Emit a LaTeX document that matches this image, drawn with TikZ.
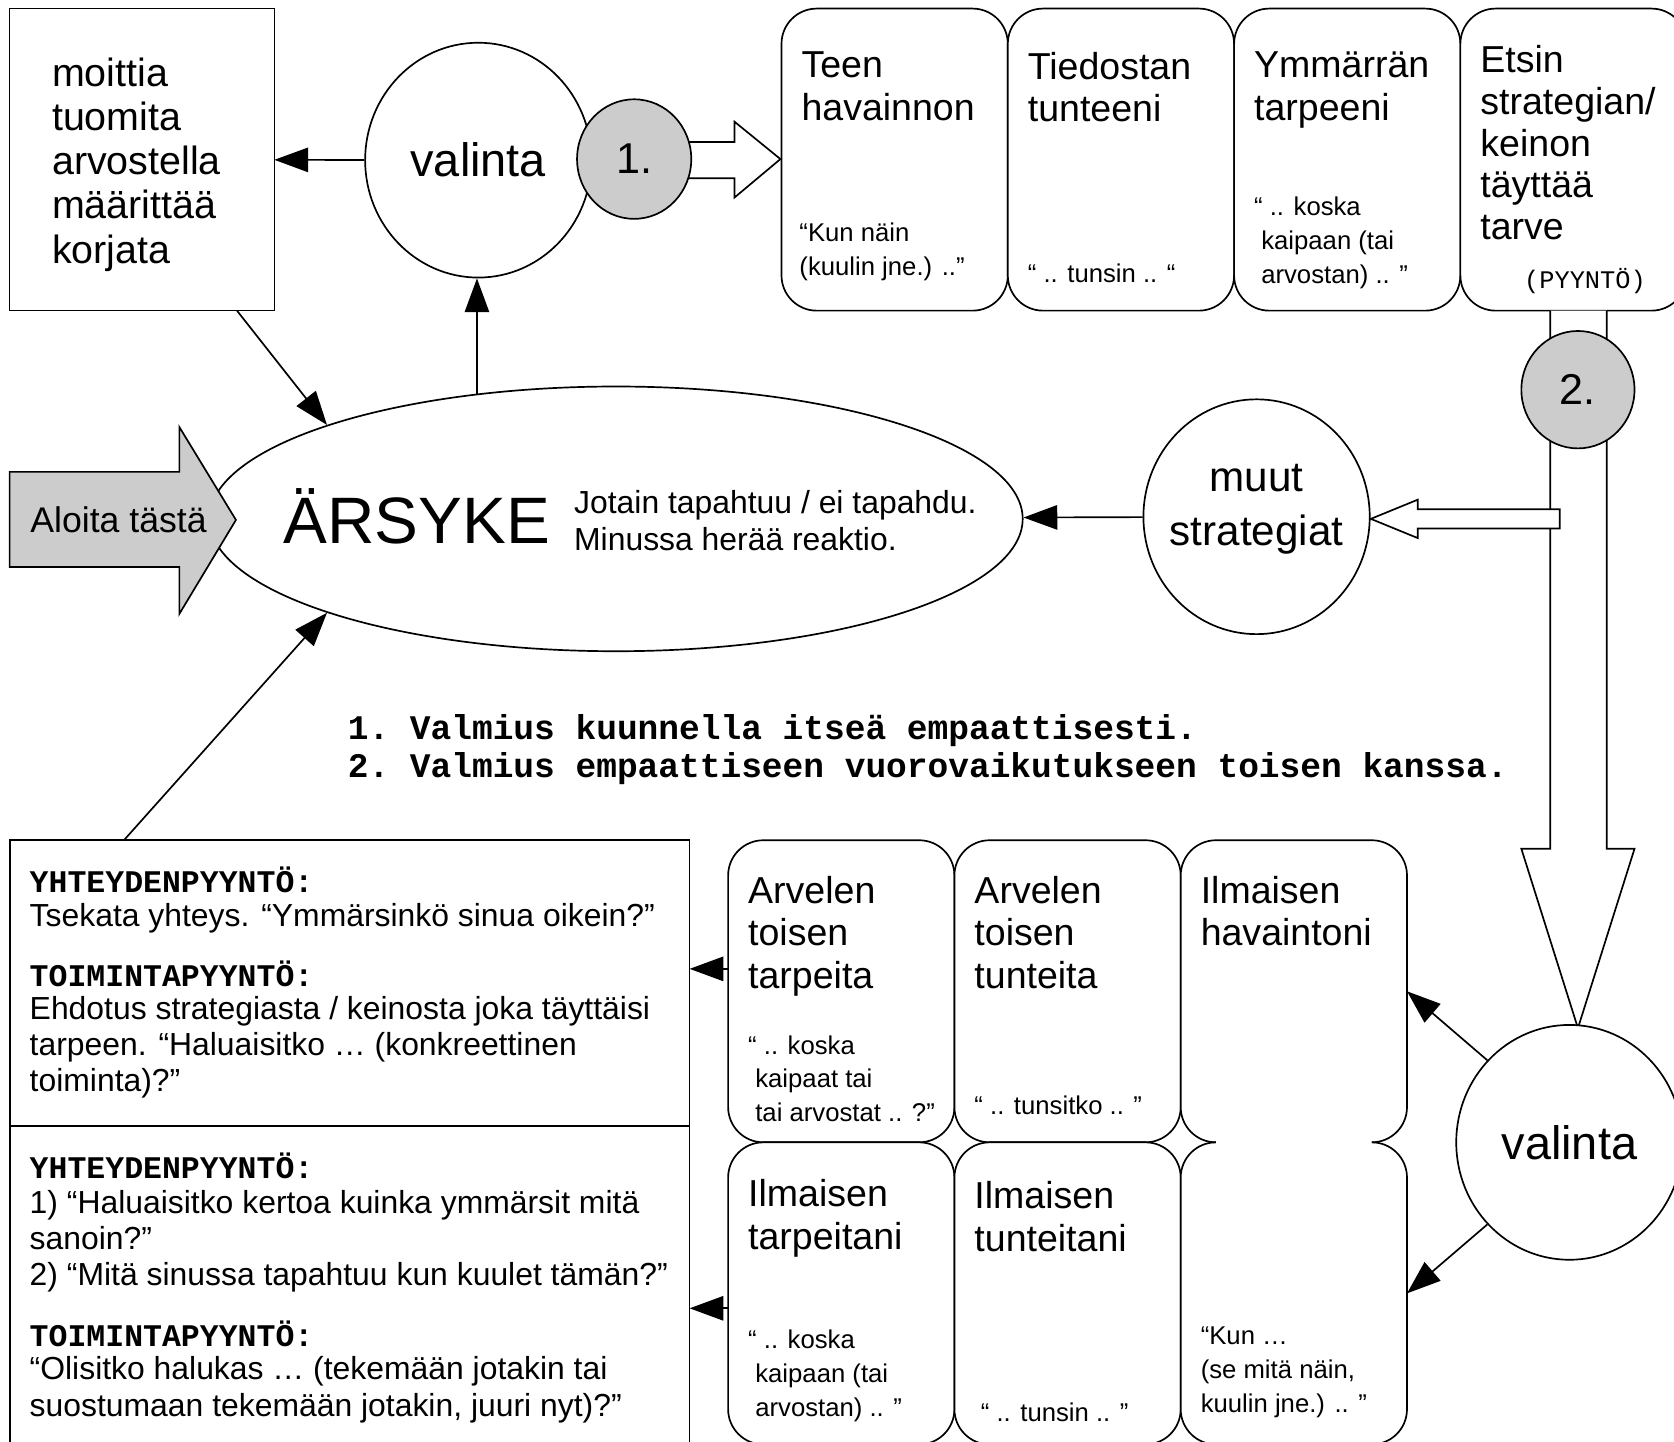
\documentclass[tikz,border=0pt]{standalone}
\usepackage{fontspec}
\setmainfont{Liberation Sans}
\setmonofont{Liberation Mono}
\usepackage{tikz}
\usetikzlibrary{positioning}
\usetikzlibrary{calc,arrows.meta}
\usetikzlibrary{shapes.geometric}

\definecolor{shade}{gray}{0.8}

\newcommand{\fntList}{\fontsize{21}{23.6}\selectfont}
\newcommand{\fntCard}{\fontsize{20}{22.6}\selectfont}
\newcommand{\fntTall}{\fontsize{20}{22.2}\selectfont}
\newcommand{\fntQuote}{\fontsize{13.7}{18}\selectfont}
\newcommand{\fntCirc}{\fontsize{25}{28}\selectfont}
\newcommand{\fntNum}{\fontsize{23}{26}\selectfont}
\newcommand{\fntOther}{\fontsize{22.5}{28.5}\selectfont}
\newcommand{\fntBig}{\fontsize{35}{40}\selectfont}
\newcommand{\fntNote}{\fontsize{17}{19.2}\selectfont}
\newcommand{\fntStart}{\fontsize{19}{22}\selectfont}
\newcommand{\fntTag}{\fontsize{13.5}{16}\selectfont\ttfamily}
\newcommand{\fntRule}{\fontsize{18.4}{20.5}\selectfont\ttfamily\bfseries}
\newcommand{\fntHead}{\fontsize{16.8}{19}\selectfont\ttfamily\bfseries}
\newcommand{\fntBody}{\fontsize{17}{19.3}\selectfont}

\tikzset{
	plainbox/.style={draw, fill=white, rectangle, inner sep=0pt, outer sep=0pt},
	card/.style={draw, fill=white, rounded corners=0.66cm, minimum width=4.24cm, minimum height=5.66cm, inner sep=0pt, outer sep=0pt},
	bubble/.style={draw, fill=white, ellipse, minimum width=4.24cm, minimum height=4.4cm, inner sep=0pt},
	badge/.style={draw, fill=shade, ellipse, minimum width=2.14cm, minimum height=2.24cm, inner sep=0pt},
	txt/.style={anchor=north west, inner sep=0pt, align=left},
	pointer/.style={-{Triangle[length=18pt,width=13pt]}},
	hollow/.style={draw, fill=white, line join=miter},
}

\begin{document}
\begin{tikzpicture}[x=0.02cm, y=-0.02cm, line width=0.9pt]

		% ---------------------
		% Proper size --- Bounding box
		\useasboundingbox (0,0) rectangle (1568,1350);

		% ---------------------
		% Judging & stimulus
		\node[plainbox, minimum width=4.96cm, minimum height=5.66cm] (judge) at (133,149.5) {};
		\path (judge.north west) +(39,45) node[txt, font=\fntList] {moittia\\tuomita\\arvostella\\määrittää\\korjata};

		\node[draw, fill=white, ellipse, minimum width=15.24cm, minimum height=4.96cm, inner sep=0pt] (stimulus) at (577,486) {};
		\node[anchor=west, inner sep=0pt, font=\fntBig] (stimname) at (265,484) {ÄRSYKE};
		\node[txt, font=\fntNote] (stimtext) at (537,459) {Jotain tapahtuu / ei tapahdu.\\Minussa herää reaktio.};

		\draw[fill=shade] (9,442) -- (168,442) -- (168,400) -- (221,487) -- (168,575) -- (168,531) -- (9,531) -- cycle;
		\node[font=\fntStart] (start) at (111,487) {Aloita tästä};

		% ---------------------
		% First choice & own cards
		\node[bubble, font=\fntCirc] (choice1) at (448,150) {valinta};
		\draw[hollow] (620,133) -- (688,133) -- (688,114) -- (731,149) -- (688,185) -- (688,167) -- (620,167);
		\node[badge, font=\fntNum] (num1) at (594,149) {1.};

		\node[card] (obs) at (838,149.5) {};
		\node[card, right=0cm of obs] (feel) {};
		\node[card, right=0cm of feel] (need) {};
		\node[card, right=0cm of need] (strat) {};

		\path (obs.north west) +(18,40) node[txt, font=\fntCard] {Teen\\havainnon};
		\path (obs.north west) +(16,200) node[txt, font=\fntQuote] {“Kun näin\\(kuulin jne.) ..”};
		\path (feel.north west) +(18,40) node[txt, font=\fntCard] {Tiedostan\\tunteeni};
		\path (feel.north west) +(18,238) node[txt, font=\fntQuote] {“ .. tunsin .. “};
		\path (need.north west) +(18,40) node[txt, font=\fntCard] {Ymmärrän\\tarpeeni};
		\path (need.north west) +(18,176) node[txt, font=\fntQuote] {“ .. koska\\~kaipaan (tai\\~arvostan) .. ”};
		\path (strat.north west) +(18,34) node[txt, font=\fntTall] {Etsin\\strategian/\\keinon\\täyttää\\tarve};
		\path (strat.north west) +(59,243) node[txt, font=\fntTag] {(PYYNTÖ)};

		% ---------------------
		% Second choice
		\draw[hollow] (1452,291) -- (1452,795) -- (1425,795) -- (1478,963) -- (1531,795) -- (1505,795) -- (1505,291);
		\node[badge, minimum width=2.12cm, minimum height=2.2cm, font=\fntNum] (num2) at (1478,365) {2.};
		\node[bubble] (others) at (1177,484) {};
		\node[font=\fntOther, align=center, inner sep=0pt] (otherstext) at (1177,477) {muut\\strategiat};
		\draw[hollow] (1461,477) -- (1328,477) -- (1328,468) -- (1284,486) -- (1328,504) -- (1328,495) -- (1461,495) -- cycle;

		\node[txt, font=\fntRule] (rules) at (325,668) {1. Valmius kuunnella itseä empaattisesti.\\2. Valmius empaattiseen vuorovaikutukseen toisen kanssa.};

		% ---------------------
		% Cards for the other
		\node[card] (needTop) at (788,928.5) {};
		\node[card, right=0cm of needTop] (feelTop) {};
		\node[card, right=0cm of feelTop, draw=none] (seeTop) {};
		\node[card, below=0cm of needTop] (needBot) {};
		\node[card, below=0cm of feelTop] (feelBot) {};
		\node[card, below=0cm of seeTop, draw=none] (seeBot) {};

		\draw[rounded corners=0.66cm] (seeTop.south west) ++(33,0) -- ++(-33,0) -- (seeTop.north west) -- (seeTop.north east) -- (seeTop.south east) -- ++(-33,0);
		\draw[rounded corners=0.66cm] (seeBot.north west) ++(33,0) -- ++(-33,0) -- (seeBot.south west) -- (seeBot.south east) -- (seeBot.north east) -- ++(-33,0);

		\path (needTop.north west) +(18,33) node[txt, font=\fntCard] {Arvelen\\toisen\\tarpeita};
		\path (needTop.north west) +(18,182) node[txt, font=\fntQuote] {“ .. koska\\~kaipaat tai\\~tai arvostat .. ?”};
		\path (feelTop.north west) +(18,33) node[txt, font=\fntCard] {Arvelen\\toisen\\tunteita};
		\path (feelTop.north west) +(18,239) node[txt, font=\fntQuote] {“ .. tunsitko .. ”};
		\path (seeTop.north west) +(18,33) node[txt, font=\fntCard] {Ilmaisen\\havaintoni};
		\path (needBot.north west) +(18,34) node[txt, font=\fntCard] {Ilmaisen\\tarpeitani};
		\path (needBot.north west) +(18,175) node[txt, font=\fntQuote] {“ .. koska\\~kaipaan (tai\\~arvostan) .. ”};
		\path (feelBot.north west) +(18,36) node[txt, font=\fntCard] {Ilmaisen\\tunteitani};
		\path (feelBot.north west) +(24,243) node[txt, font=\fntQuote] {“ .. tunsin .. ”};
		\path (seeBot.north west) +(18,172) node[txt, font=\fntQuote] {“Kun …\\(se mitä näin,\\kuulin jne.) .. ”};

		\node[bubble, font=\fntCirc] (choice2) at (1470,1070) {valinta};

		% ---------------------
		% Requests
		\node[plainbox, minimum width=12.74cm, minimum height=5.36cm] (request) at (327.5,921) {};
		\node[plainbox, minimum width=12.74cm, minimum height=6.2cm, below=0cm of request] (requestB) {};

		\path (request.north west) +(18,24) node[txt, font=\fntHead] {YHTEYDENPYYNTÖ:};
		\path (request.north west) +(18,58) node[txt, font=\fntBody] {Tsekata yhteys. “Ymmärsinkö sinua oikein?”};
		\path (request.north west) +(18,112) node[txt, font=\fntHead] {TOIMINTAPYYNTÖ:};
		\path (request.north west) +(18,145) node[txt, font=\fntBody] {Ehdotus strategiasta / keinosta joka täyttäisi\\tarpeen. “Haluaisitko … (konkreettinen\\toiminta)?”};
		\path (requestB.north west) +(18,24) node[txt, font=\fntHead] {YHTEYDENPYYNTÖ:};
		\path (requestB.north west) +(18,59) node[txt, font=\fntBody] {1) “Haluaisitko kertoa kuinka ymmärsit mitä\\sanoin?”\\2) “Mitä sinussa tapahtuu kun kuulet tämän?”};
		\path (requestB.north west) +(18,181) node[txt, font=\fntHead] {TOIMINTAPYYNTÖ:};
		\path (requestB.north west) +(18,215) node[txt, font=\fntBody] {“Olisitko halukas … (tekemään jotakin tai\\suostumaan tekemään jotakin, juuri nyt)?”};

		% ---------------------
		% Connectors
		\path (judge.south east) +(-35,0) coordinate (judgefoot);
		\path (request.north west) +(107,0) coordinate (requestfoot);
		\path (needTop.west) +(0,-21) coordinate (needTopOut);
		\path (needBot.west) +(0,14) coordinate (needBotOut);

		\draw[pointer] (choice1) -- (judge);
		\draw[pointer] (stimulus.138) -- (stimulus.138 |- choice1.south);
		\draw[pointer] (judgefoot) -- (stimulus.162);
		\draw[pointer] (requestfoot) -- (stimulus.198);
		\draw[pointer] (others) -- (stimulus);
		\draw[pointer] (choice2.135) -- (seeTop.east);
		\draw[pointer] (choice2.225) -- (seeBot.east);
		\draw[pointer] (needTopOut) -- (needTopOut -| request.east);
		\draw[pointer] (needBotOut) -- (needBotOut -| requestB.east);

\end{tikzpicture}
\end{document}
